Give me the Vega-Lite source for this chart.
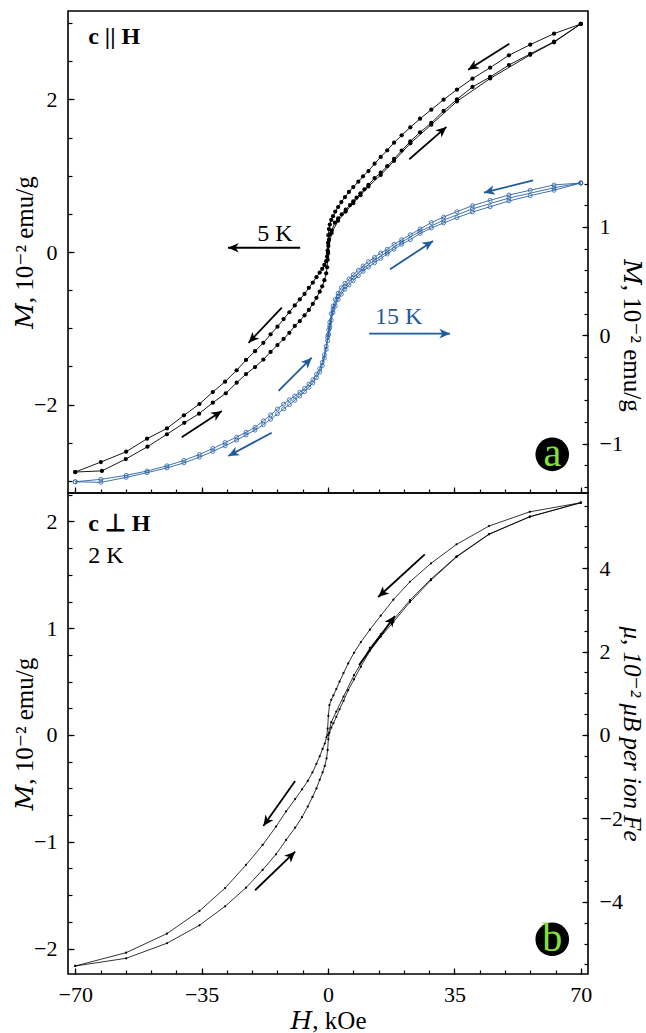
{
"$schema":"https://vega.github.io/schema/vega-lite/v6.json",
"padding":{"left":11,"top":10,"right":5,"bottom":3},
"spacing":0,
"bounds":"flush",
"config":{"view":{"stroke":"black","strokeWidth":1.6},
"font":"Liberation Serif",
"axis":{"labelFont":"Liberation Serif","labelFontSize":22,"titleFont":"Liberation Serif, DejaVu Serif","titleFontSize":25,"titleFontWeight":"normal","labelColor":"black","titleColor":"black","tickColor":"black","domain":false,"grid":false,"labelFlush":false,"labelOverlap":false,"tickWidth":1.2}},
"datasets":{
"k5":[
{"H":70,"M":2.99,"b":"down"},{"H":62.6,"M":2.863,"b":"down"},{"H":56,"M":2.719,"b":"down"},{"H":50.1,"M":2.579,"b":"down"},{"H":44.9,"M":2.417,"b":"down"},{"H":40,"M":2.273,"b":"down"},{"H":35.7,"M":2.129,"b":"down"},{"H":32,"M":1.997,"b":"down"},{"H":28.6,"M":1.866,"b":"down"},{"H":25.5,"M":1.748,"b":"down"},{"H":22.8,"M":1.635,"b":"down"},{"H":20.4,"M":1.53,"b":"down"},{"H":18.3,"M":1.434,"b":"down"},{"H":16.4,"M":1.334,"b":"down"},{"H":14.6,"M":1.246,"b":"down"},{"H":12.9,"M":1.158,"b":"down"},{"H":11.2,"M":1.062,"b":"down"},{"H":9.7,"M":0.993,"b":"down"},{"H":8.4,"M":0.922,"b":"down"},{"H":7,"M":0.852,"b":"down"},{"H":5.8,"M":0.787,"b":"down"},{"H":4.7,"M":0.72,"b":"down"},{"H":3.7,"M":0.655,"b":"down"},{"H":2.8,"M":0.59,"b":"down"},{"H":2,"M":0.53,"b":"down"},{"H":1.4,"M":0.47,"b":"down"},{"H":0.9,"M":0.42,"b":"down"},{"H":0.5,"M":0.36,"b":"down"},{"H":0.25,"M":0.3,"b":"down"},{"H":0.1,"M":0.22,"b":"down"},{"H":0,"M":0.12,"b":"down"},{"H":-0.1,"M":0.02,"b":"down"},{"H":-0.25,"M":-0.06,"b":"down"},{"H":-0.5,"M":-0.12,"b":"down"},{"H":-1,"M":-0.17,"b":"down"},{"H":-1.6,"M":-0.22,"b":"down"},{"H":-2.3,"M":-0.27,"b":"down"},{"H":-3.2,"M":-0.33,"b":"down"},{"H":-4.2,"M":-0.4,"b":"down"},{"H":-5.3,"M":-0.47,"b":"down"},{"H":-6.5,"M":-0.55,"b":"down"},{"H":-7.8,"M":-0.62,"b":"down"},{"H":-9.2,"M":-0.7,"b":"down"},{"H":-10.7,"M":-0.79,"b":"down"},{"H":-12.3,"M":-0.88,"b":"down"},{"H":-14,"M":-0.98,"b":"down"},{"H":-15.9,"M":-1.08,"b":"down"},{"H":-17.9,"M":-1.19,"b":"down"},{"H":-20.2,"M":-1.3,"b":"down"},{"H":-22.7,"M":-1.416,"b":"down"},{"H":-25.3,"M":-1.552,"b":"down"},{"H":-28.5,"M":-1.7,"b":"down"},{"H":-31.9,"M":-1.836,"b":"down"},{"H":-35.6,"M":-1.993,"b":"down"},{"H":-39.9,"M":-2.142,"b":"down"},{"H":-44.6,"M":-2.313,"b":"down"},{"H":-50.1,"M":-2.448,"b":"down"},{"H":-55.9,"M":-2.619,"b":"down"},{"H":-62.9,"M":-2.754,"b":"down"},{"H":-70,"M":-2.885,"b":"down"},
{"H":-70,"M":-2.885,"b":"up"},{"H":-62.6,"M":-2.87,"b":"up"},{"H":-56,"M":-2.715,"b":"up"},{"H":-50,"M":-2.553,"b":"up"},{"H":-44.6,"M":-2.39,"b":"up"},{"H":-39.8,"M":-2.24,"b":"up"},{"H":-35.7,"M":-2.12,"b":"up"},{"H":-31.9,"M":-1.976,"b":"up"},{"H":-28.3,"M":-1.853,"b":"up"},{"H":-25.3,"M":-1.714,"b":"up"},{"H":-22.7,"M":-1.6,"b":"up"},{"H":-20.2,"M":-1.508,"b":"up"},{"H":-17.9,"M":-1.41,"b":"up"},{"H":-15.9,"M":-1.31,"b":"up"},{"H":-14,"M":-1.22,"b":"up"},{"H":-12.3,"M":-1.14,"b":"up"},{"H":-10.7,"M":-1.06,"b":"up"},{"H":-9.2,"M":-0.97,"b":"up"},{"H":-7.8,"M":-0.905,"b":"up"},{"H":-6.5,"M":-0.83,"b":"up"},{"H":-5.3,"M":-0.76,"b":"up"},{"H":-4.2,"M":-0.68,"b":"up"},{"H":-3.2,"M":-0.6,"b":"up"},{"H":-2.3,"M":-0.52,"b":"up"},{"H":-1.6,"M":-0.45,"b":"up"},{"H":-1,"M":-0.37,"b":"up"},{"H":-0.5,"M":-0.28,"b":"up"},{"H":-0.25,"M":-0.2,"b":"up"},{"H":-0.1,"M":-0.1,"b":"up"},{"H":0,"M":-0.02,"b":"up"},{"H":0.1,"M":0.08,"b":"up"},{"H":0.25,"M":0.16,"b":"up"},{"H":0.56,"M":0.232,"b":"up"},{"H":1,"M":0.28,"b":"up"},{"H":1.9,"M":0.385,"b":"up"},{"H":2.8,"M":0.44,"b":"up"},{"H":3.8,"M":0.494,"b":"up"},{"H":4.9,"M":0.555,"b":"up"},{"H":6.1,"M":0.616,"b":"up"},{"H":7,"M":0.665,"b":"up"},{"H":7.9,"M":0.712,"b":"up"},{"H":9,"M":0.77,"b":"up"},{"H":10.1,"M":0.822,"b":"up"},{"H":11.2,"M":0.88,"b":"up"},{"H":12.9,"M":0.97,"b":"up"},{"H":14.6,"M":1.04,"b":"up"},{"H":16.4,"M":1.125,"b":"up"},{"H":18.3,"M":1.22,"b":"up"},{"H":20.4,"M":1.33,"b":"up"},{"H":22.8,"M":1.45,"b":"up"},{"H":25.5,"M":1.57,"b":"up"},{"H":28.6,"M":1.692,"b":"up"},{"H":32,"M":1.849,"b":"up"},{"H":35.7,"M":2,"b":"up"},{"H":40,"M":2.164,"b":"up"},{"H":44.9,"M":2.295,"b":"up"},{"H":50.1,"M":2.452,"b":"up"},{"H":56,"M":2.597,"b":"up"},{"H":62.6,"M":2.758,"b":"up"},{"H":70,"M":2.99,"b":"up"},
{"H":0,"M":0,"b":"virgin"},{"H":1,"M":0.25,"b":"virgin"},{"H":2.8,"M":0.41,"b":"virgin"},{"H":4.9,"M":0.53,"b":"virgin"},{"H":7,"M":0.64,"b":"virgin"},{"H":9,"M":0.745,"b":"virgin"},{"H":11.2,"M":0.86,"b":"virgin"},{"H":14.6,"M":1.01,"b":"virgin"},{"H":18.3,"M":1.195,"b":"virgin"},{"H":22.8,"M":1.425,"b":"virgin"},{"H":28.6,"M":1.67,"b":"virgin"},{"H":35.7,"M":1.975,"b":"virgin"},{"H":44.9,"M":2.275,"b":"virgin"},{"H":56,"M":2.585,"b":"virgin"},{"H":62.6,"M":2.75,"b":"virgin"},{"H":70,"M":2.99,"b":"virgin"}
],
"k15":[
{"H":70,"M":1.406,"b":"down"},{"H":62.6,"M":1.388,"b":"down"},{"H":56,"M":1.339,"b":"down"},{"H":50.1,"M":1.295,"b":"down"},{"H":44.9,"M":1.246,"b":"down"},{"H":40,"M":1.197,"b":"down"},{"H":35.7,"M":1.141,"b":"down"},{"H":32,"M":1.092,"b":"down"},{"H":28.6,"M":1.04,"b":"down"},{"H":25.5,"M":0.981,"b":"down"},{"H":22.8,"M":0.929,"b":"down"},{"H":20.4,"M":0.883,"b":"down"},{"H":18.3,"M":0.84,"b":"down"},{"H":16.4,"M":0.794,"b":"down"},{"H":14.6,"M":0.76,"b":"down"},{"H":12.9,"M":0.72,"b":"down"},{"H":11.2,"M":0.68,"b":"down"},{"H":9.7,"M":0.64,"b":"down"},{"H":8.4,"M":0.6,"b":"down"},{"H":7,"M":0.56,"b":"down"},{"H":5.8,"M":0.52,"b":"down"},{"H":4.7,"M":0.48,"b":"down"},{"H":3.7,"M":0.44,"b":"down"},{"H":2.8,"M":0.39,"b":"down"},{"H":2,"M":0.33,"b":"down"},{"H":1.4,"M":0.27,"b":"down"},{"H":0.9,"M":0.2,"b":"down"},{"H":0.5,"M":0.12,"b":"down"},{"H":0.2,"M":0.05,"b":"down"},{"H":-0.1,"M":-0.02,"b":"down"},{"H":-0.5,"M":-0.1,"b":"down"},{"H":-1,"M":-0.18,"b":"down"},{"H":-1.6,"M":-0.25,"b":"down"},{"H":-2.3,"M":-0.31,"b":"down"},{"H":-3.2,"M":-0.36,"b":"down"},{"H":-4.2,"M":-0.41,"b":"down"},{"H":-5.3,"M":-0.45,"b":"down"},{"H":-6.5,"M":-0.49,"b":"down"},{"H":-7.8,"M":-0.525,"b":"down"},{"H":-9.2,"M":-0.56,"b":"down"},{"H":-10.7,"M":-0.595,"b":"down"},{"H":-12.3,"M":-0.635,"b":"down"},{"H":-14,"M":-0.68,"b":"down"},{"H":-15.9,"M":-0.735,"b":"down"},{"H":-17.9,"M":-0.79,"b":"down"},{"H":-20.2,"M":-0.85,"b":"down"},{"H":-22.7,"M":-0.895,"b":"down"},{"H":-25.3,"M":-0.94,"b":"down"},{"H":-28.5,"M":-0.99,"b":"down"},{"H":-31.9,"M":-1.045,"b":"down"},{"H":-35.6,"M":-1.1,"b":"down"},{"H":-39.9,"M":-1.155,"b":"down"},{"H":-44.6,"M":-1.205,"b":"down"},{"H":-50.1,"M":-1.253,"b":"down"},{"H":-55.9,"M":-1.293,"b":"down"},{"H":-62.9,"M":-1.33,"b":"down"},{"H":-70,"M":-1.352,"b":"down"},
{"H":-70,"M":-1.352,"b":"up"},{"H":-62.9,"M":-1.358,"b":"up"},{"H":-55.9,"M":-1.312,"b":"up"},{"H":-50.1,"M":-1.268,"b":"up"},{"H":-44.6,"M":-1.225,"b":"up"},{"H":-39.9,"M":-1.178,"b":"up"},{"H":-35.6,"M":-1.125,"b":"up"},{"H":-31.9,"M":-1.072,"b":"up"},{"H":-28.5,"M":-1.02,"b":"up"},{"H":-25.3,"M":-0.968,"b":"up"},{"H":-22.7,"M":-0.92,"b":"up"},{"H":-20.2,"M":-0.875,"b":"up"},{"H":-17.9,"M":-0.825,"b":"up"},{"H":-15.9,"M":-0.775,"b":"up"},{"H":-14,"M":-0.725,"b":"up"},{"H":-12.3,"M":-0.68,"b":"up"},{"H":-10.7,"M":-0.64,"b":"up"},{"H":-9.2,"M":-0.6,"b":"up"},{"H":-7.8,"M":-0.56,"b":"up"},{"H":-6.5,"M":-0.52,"b":"up"},{"H":-5.3,"M":-0.48,"b":"up"},{"H":-4.2,"M":-0.44,"b":"up"},{"H":-3.2,"M":-0.39,"b":"up"},{"H":-2.3,"M":-0.34,"b":"up"},{"H":-1.6,"M":-0.28,"b":"up"},{"H":-1,"M":-0.21,"b":"up"},{"H":-0.5,"M":-0.13,"b":"up"},{"H":-0.1,"M":-0.05,"b":"up"},{"H":0.2,"M":0.01,"b":"up"},{"H":0.5,"M":0.07,"b":"up"},{"H":0.9,"M":0.14,"b":"up"},{"H":1.4,"M":0.21,"b":"up"},{"H":2,"M":0.27,"b":"up"},{"H":2.8,"M":0.33,"b":"up"},{"H":3.7,"M":0.38,"b":"up"},{"H":4.7,"M":0.425,"b":"up"},{"H":5.8,"M":0.465,"b":"up"},{"H":7,"M":0.505,"b":"up"},{"H":8.4,"M":0.55,"b":"up"},{"H":9.7,"M":0.59,"b":"up"},{"H":11.2,"M":0.63,"b":"up"},{"H":12.9,"M":0.67,"b":"up"},{"H":14.6,"M":0.71,"b":"up"},{"H":16.4,"M":0.75,"b":"up"},{"H":18.3,"M":0.795,"b":"up"},{"H":20.4,"M":0.84,"b":"up"},{"H":22.8,"M":0.883,"b":"up"},{"H":25.5,"M":0.94,"b":"up"},{"H":28.6,"M":0.991,"b":"up"},{"H":32,"M":1.037,"b":"up"},{"H":35.7,"M":1.086,"b":"up"},{"H":40,"M":1.138,"b":"up"},{"H":44.9,"M":1.187,"b":"up"},{"H":50.1,"M":1.24,"b":"up"},{"H":56,"M":1.289,"b":"up"},{"H":62.6,"M":1.339,"b":"up"},{"H":70,"M":1.406,"b":"up"},
{"H":0,"M":0,"b":"virgin"},{"H":0.5,"M":0.09,"b":"virgin"},{"H":1.4,"M":0.24,"b":"virgin"},{"H":2.8,"M":0.36,"b":"virgin"},{"H":4.7,"M":0.45,"b":"virgin"},{"H":7,"M":0.53,"b":"virgin"},{"H":9.7,"M":0.615,"b":"virgin"},{"H":12.9,"M":0.695,"b":"virgin"},{"H":16.4,"M":0.77,"b":"virgin"},{"H":20.4,"M":0.86,"b":"virgin"},{"H":25.5,"M":0.96,"b":"virgin"},{"H":32,"M":1.063,"b":"virgin"},{"H":40,"M":1.167,"b":"virgin"},{"H":50.1,"M":1.267,"b":"virgin"},{"H":62.6,"M":1.362,"b":"virgin"},{"H":70,"M":1.406,"b":"virgin"}
],
"k2":[
{"H":70,"M":2.175,"b":"down"},{"H":55.9,"M":2.09,"b":"down"},{"H":44.6,"M":1.957,"b":"down"},{"H":35.6,"M":1.785,"b":"down"},{"H":28.5,"M":1.607,"b":"down"},{"H":22.7,"M":1.435,"b":"down"},{"H":18.1,"M":1.267,"b":"down"},{"H":14.6,"M":1.117,"b":"down"},{"H":11.6,"M":0.986,"b":"down"},{"H":9.1,"M":0.87,"b":"down"},{"H":7.2,"M":0.77,"b":"down"},{"H":5.6,"M":0.67,"b":"down"},{"H":4.3,"M":0.58,"b":"down"},{"H":3.2,"M":0.5,"b":"down"},{"H":2.3,"M":0.43,"b":"down"},{"H":1.5,"M":0.37,"b":"down"},{"H":0.9,"M":0.33,"b":"down"},{"H":0.4,"M":0.28,"b":"down"},{"H":0.1,"M":0.18,"b":"down"},{"H":-0.1,"M":0.06,"b":"down"},{"H":-0.4,"M":-0.02,"b":"down"},{"H":-0.9,"M":-0.08,"b":"down"},{"H":-1.5,"M":-0.13,"b":"down"},{"H":-2.3,"M":-0.2,"b":"down"},{"H":-3.2,"M":-0.27,"b":"down"},{"H":-4.3,"M":-0.35,"b":"down"},{"H":-5.6,"M":-0.43,"b":"down"},{"H":-7.2,"M":-0.51,"b":"down"},{"H":-9.1,"M":-0.6,"b":"down"},{"H":-11.6,"M":-0.715,"b":"down"},{"H":-14.4,"M":-0.858,"b":"down"},{"H":-18.1,"M":-1.03,"b":"down"},{"H":-22.7,"M":-1.217,"b":"down"},{"H":-28.5,"M":-1.433,"b":"down"},{"H":-35.6,"M":-1.648,"b":"down"},{"H":-44.6,"M":-1.86,"b":"down"},{"H":-55.9,"M":-2.038,"b":"down"},{"H":-70,"M":-2.163,"b":"down"},
{"H":-70,"M":-2.163,"b":"up"},{"H":-55.9,"M":-2.091,"b":"up"},{"H":-44.6,"M":-1.95,"b":"up"},{"H":-35.6,"M":-1.782,"b":"up"},{"H":-28.5,"M":-1.604,"b":"up"},{"H":-22.7,"M":-1.43,"b":"up"},{"H":-18.1,"M":-1.264,"b":"up"},{"H":-14.4,"M":-1.117,"b":"up"},{"H":-11.6,"M":-0.983,"b":"up"},{"H":-9.1,"M":-0.868,"b":"up"},{"H":-7.2,"M":-0.77,"b":"up"},{"H":-5.6,"M":-0.67,"b":"up"},{"H":-4.3,"M":-0.58,"b":"up"},{"H":-3.2,"M":-0.5,"b":"up"},{"H":-2.3,"M":-0.42,"b":"up"},{"H":-1.5,"M":-0.35,"b":"up"},{"H":-0.9,"M":-0.29,"b":"up"},{"H":-0.4,"M":-0.22,"b":"up"},{"H":-0.1,"M":-0.14,"b":"up"},{"H":0.1,"M":-0.04,"b":"up"},{"H":0.4,"M":0.02,"b":"up"},{"H":0.9,"M":0.07,"b":"up"},{"H":1.5,"M":0.11,"b":"up"},{"H":2.3,"M":0.17,"b":"up"},{"H":3.2,"M":0.24,"b":"up"},{"H":4.3,"M":0.32,"b":"up"},{"H":5.6,"M":0.42,"b":"up"},{"H":7.2,"M":0.52,"b":"up"},{"H":9.1,"M":0.64,"b":"up"},{"H":11.6,"M":0.79,"b":"up"},{"H":14.6,"M":0.92,"b":"up"},{"H":18.1,"M":1.058,"b":"up"},{"H":22.7,"M":1.245,"b":"up"},{"H":28.5,"M":1.449,"b":"up"},{"H":35.6,"M":1.667,"b":"up"},{"H":44.6,"M":1.879,"b":"up"},{"H":55.9,"M":2.044,"b":"up"},{"H":70,"M":2.175,"b":"up"},
{"H":0,"M":0,"b":"virgin"},{"H":0.9,"M":0.12,"b":"virgin"},{"H":2.3,"M":0.22,"b":"virgin"},{"H":4.3,"M":0.36,"b":"virgin"},{"H":7.2,"M":0.56,"b":"virgin"},{"H":11.6,"M":0.815,"b":"virgin"},{"H":14.6,"M":0.945,"b":"virgin"},{"H":18.1,"M":1.08,"b":"virgin"},{"H":22.7,"M":1.262,"b":"virgin"},{"H":28.5,"M":1.46,"b":"virgin"},{"H":35.6,"M":1.672,"b":"virgin"},{"H":44.6,"M":1.882,"b":"virgin"},{"H":55.9,"M":2.044,"b":"virgin"},{"H":70,"M":2.175,"b":"virgin"}
],
"arrA":[
{"x1":50.2,"y1":2.73,"x2":38.8,"y2":2.39,"dir":148},
{"x1":22.5,"y1":1.216,"x2":32.8,"y2":1.64,"dir":-41},
{"x1":-12.8,"y1":-0.73,"x2":-22.0,"y2":-1.19,"dir":134},
{"x1":-40.5,"y1":-2.43,"x2":-29.4,"y2":-2.085,"dir":-33},
{"x1":-7.7,"y1":0.056,"x2":-27.7,"y2":0.056,"dir":180}
],
"arrAb":[
{"x1":56.8,"y1":1.431,"x2":43.2,"y2":1.317,"dir":166},
{"x1":17.2,"y1":0.609,"x2":29.1,"y2":0.871,"dir":-33},
{"x1":-13.7,"y1":-0.514,"x2":-4.5,"y2":-0.207,"dir":-45},
{"x1":-15.6,"y1":-0.899,"x2":-27.6,"y2":-1.115,"dir":152},
{"x1":11.4,"y1":0.015,"x2":33.8,"y2":0.015,"dir":0}
],
"arrB":[
{"x1":26.8,"y1":1.692,"x2":13.9,"y2":1.292,"dir":138},
{"x1":8.6,"y1":0.655,"x2":18.5,"y2":1.114,"dir":-54},
{"x1":-9.1,"y1":-0.431,"x2":-17.9,"y2":-0.852,"dir":125},
{"x1":-20.2,"y1":-1.454,"x2":-9.1,"y2":-1.093,"dir":-44}
]
},
"vconcat":[
{
"width":520,"height":482,
"resolve":{"scale":{"y":"independent"},"axis":{"x":"independent","y":"independent"}},
"layer":[
{"data":{"name":"k5"},"mark":{"type":"line","color":"black","strokeWidth":0.9},
"encoding":{"x":{"field":"H","type":"quantitative","scale":{"domain":[-72,72],"nice":false,"zero":false},"axis":{"orient":"bottom","values":[-70,-35,0,35,70],"labels":false,"tickSize":-6,"title":null}},
"y":{"field":"M","type":"quantitative","scale":{"domain":[-3.16,3.16],"nice":false,"zero":false},"axis":{"orient":"left","values":[-2,0,2],"tickSize":-6,"labelPadding":17,"title":"𝑀, 10⁻² emu/g","titlePadding":-4}},
"detail":{"field":"b"}}},
{"data":{"name":"k5"},"mark":{"type":"point","filled":true,"color":"black","size":18,"opacity":1},
"encoding":{"x":{"field":"H","type":"quantitative","scale":{"domain":[-72,72],"nice":false,"zero":false},"axis":{"orient":"bottom","values":[-70,-63,-56,-49,-42,-35,-28,-21,-14,-7,0,7,14,21,28,35,42,49,56,63,70],"labels":false,"tickSize":-4,"title":null}},
"y":{"field":"M","type":"quantitative","scale":{"domain":[-3.16,3.16],"nice":false,"zero":false},"axis":{"orient":"left","values":[-3,-2.5,-2,-1.5,-1,-0.5,0,0.5,1,1.5,2,2.5,3],"labels":false,"tickSize":-4,"title":null}}}},
{"data":{"name":"k15"},"mark":{"type":"line","color":"#2a62a6","strokeWidth":0.9},
"encoding":{"x":{"field":"H","type":"quantitative","scale":{"domain":[-72,72],"nice":false,"zero":false},"axis":null},
"y":{"field":"M","type":"quantitative","scale":{"domain":[-1.456,2.994],"nice":false,"zero":false},"axis":{"orient":"right","values":[-1,0,1],"tickSize":-6,"labelPadding":17,"title":"𝑀, 10⁻² emu/g","titlePadding":-4,"titleY":324}},
"detail":{"field":"b"}}},
{"data":{"name":"k15"},"mark":{"type":"point","filled":false,"color":"#2a62a6","size":16,"strokeWidth":0.8,"opacity":1},
"encoding":{"x":{"field":"H","type":"quantitative","scale":{"domain":[-72,72],"nice":false,"zero":false},"axis":null},
"y":{"field":"M","type":"quantitative","scale":{"domain":[-1.456,2.994],"nice":false,"zero":false},"axis":{"orient":"right","values":[-1.4,-1.2,-1,-0.8,-0.6,-0.4,-0.2,0,0.2,0.4,0.6,0.8,1,1.2,1.4],"labels":false,"tickSize":-4,"title":null}}}},
{"data":{"name":"arrA"},"mark":{"type":"rule","color":"black","strokeWidth":1.8},
"encoding":{"x":{"field":"x1","type":"quantitative","scale":{"domain":[-72,72],"nice":false,"zero":false},"axis":null},"x2":{"field":"x2"},
"y":{"field":"y1","type":"quantitative","scale":{"domain":[-3.16,3.16],"nice":false,"zero":false},"axis":null},"y2":{"field":"y2"}}},
{"data":{"name":"arrA"},"mark":{"type":"point","filled":true,"color":"black","opacity":1,"size":460,"shape":"M0,0L-1,-0.45L-0.72,0L-1,0.45Z","strokeWidth":0},
"encoding":{"x":{"field":"x2","type":"quantitative","scale":{"domain":[-72,72],"nice":false,"zero":false},"axis":null},
"y":{"field":"y2","type":"quantitative","scale":{"domain":[-3.16,3.16],"nice":false,"zero":false},"axis":null},
"angle":{"field":"dir","type":"quantitative","scale":null}}},
{"data":{"name":"arrAb"},"mark":{"type":"rule","color":"#1f5a9e","strokeWidth":1.8},
"encoding":{"x":{"field":"x1","type":"quantitative","scale":{"domain":[-72,72],"nice":false,"zero":false},"axis":null},"x2":{"field":"x2"},
"y":{"field":"y1","type":"quantitative","scale":{"domain":[-1.456,2.994],"nice":false,"zero":false},"axis":null},"y2":{"field":"y2"}}},
{"data":{"name":"arrAb"},"mark":{"type":"point","filled":true,"color":"#1f5a9e","opacity":1,"size":460,"shape":"M0,0L-1,-0.45L-0.72,0L-1,0.45Z","strokeWidth":0},
"encoding":{"x":{"field":"x2","type":"quantitative","scale":{"domain":[-72,72],"nice":false,"zero":false},"axis":null},
"y":{"field":"y2","type":"quantitative","scale":{"domain":[-1.456,2.994],"nice":false,"zero":false},"axis":null},
"angle":{"field":"dir","type":"quantitative","scale":null}}},
{"data":{"values":[{"H":-66.4,"M":2.73,"t":"c || H"}]},"mark":{"type":"text","align":"left","baseline":"alphabetic","font":"Liberation Serif","fontSize":24,"fontWeight":"bold","color":"black"},
"encoding":{"x":{"field":"H","type":"quantitative","scale":{"domain":[-72,72],"nice":false,"zero":false},"axis":null},
"y":{"field":"M","type":"quantitative","scale":{"domain":[-3.16,3.16],"nice":false,"zero":false},"axis":null},"text":{"field":"t"}}},
{"data":{"values":[{"H":-19.6,"M":0.144,"t":"5 K"}]},"mark":{"type":"text","align":"left","baseline":"alphabetic","font":"Liberation Serif","fontSize":24,"color":"black"},
"encoding":{"x":{"field":"H","type":"quantitative","scale":{"domain":[-72,72],"nice":false,"zero":false},"axis":null},
"y":{"field":"M","type":"quantitative","scale":{"domain":[-3.16,3.16],"nice":false,"zero":false},"axis":null},"text":{"field":"t"}}},
{"data":{"values":[{"H":13.0,"M":0.104,"t":"15 K"}]},"mark":{"type":"text","align":"left","baseline":"alphabetic","font":"Liberation Serif","fontSize":24,"color":"#1f5a9e"},
"encoding":{"x":{"field":"H","type":"quantitative","scale":{"domain":[-72,72],"nice":false,"zero":false},"axis":null},
"y":{"field":"M","type":"quantitative","scale":{"domain":[-1.456,2.994],"nice":false,"zero":false},"axis":null},"text":{"field":"t"}}},
{"data":{"values":[{"H":62.1,"M":-2.653,"t":"a"}]},"mark":{"type":"point","shape":"circle","filled":true,"color":"black","opacity":1,"size":1130},
"encoding":{"x":{"field":"H","type":"quantitative","scale":{"domain":[-72,72],"nice":false,"zero":false},"axis":null},
"y":{"field":"M","type":"quantitative","scale":{"domain":[-3.16,3.16],"nice":false,"zero":false},"axis":null}}},
{"data":{"values":[{"H":62.1,"M":-2.653,"t":"a"}]},"mark":{"type":"text","align":"center","baseline":"middle","font":"Liberation Serif","fontSize":40,"color":"#86e03a"},
"encoding":{"x":{"field":"H","type":"quantitative","scale":{"domain":[-72,72],"nice":false,"zero":false},"axis":null},
"y":{"field":"M","type":"quantitative","scale":{"domain":[-3.16,3.16],"nice":false,"zero":false},"axis":null},"text":{"field":"t"}}}
]
},
{
"width":520,"height":481,
"resolve":{"scale":{"y":"independent"},"axis":{"x":"independent","y":"independent"}},
"layer":[
{"data":{"name":"k2"},"mark":{"type":"line","color":"black","strokeWidth":0.8},
"encoding":{"x":{"field":"H","type":"quantitative","scale":{"domain":[-72,72],"nice":false,"zero":false},"axis":{"orient":"bottom","values":[-70,-35,0,35,70],"tickSize":-6,"labelPadding":16,"title":"𝐻, kOe","titlePadding":3}},
"y":{"field":"M","type":"quantitative","scale":{"domain":[-2.238,2.266],"nice":false,"zero":false},"axis":{"orient":"left","values":[-2,-1,0,1,2],"tickSize":-6,"labelPadding":17,"title":"𝑀, 10⁻² emu/g","titlePadding":-4}},
"detail":{"field":"b"}}},
{"data":{"name":"k2"},"mark":{"type":"point","filled":true,"color":"black","size":5,"opacity":1},
"encoding":{"x":{"field":"H","type":"quantitative","scale":{"domain":[-72,72],"nice":false,"zero":false},"axis":{"orient":"bottom","values":[-70,-63,-56,-49,-42,-35,-28,-21,-14,-7,0,7,14,21,28,35,42,49,56,63,70],"labels":false,"tickSize":-4,"title":null}},
"y":{"field":"M","type":"quantitative","scale":{"domain":[-2.238,2.266],"nice":false,"zero":false},"axis":{"orient":"left","values":[-2,-1.75,-1.5,-1.25,-1,-0.75,-0.5,-0.25,0,0.25,0.5,0.75,1,1.25,1.5,1.75,2,2.25],"labels":false,"tickSize":-4,"title":null}}}},
{"data":{"name":"k2"},"mark":{"type":"point","opacity":0},
"encoding":{"x":{"field":"H","type":"quantitative","scale":{"domain":[-72,72],"nice":false,"zero":false},"axis":null},
"y":{"field":"M","type":"quantitative","scale":{"domain":[-5.73,5.8],"nice":false,"zero":false},"axis":{"orient":"right","values":[-4,-2,0,2,4],"tickSize":-6,"labelPadding":17,"title":"μ, 10⁻² μB per ion Fe","titleFontStyle":"italic","titlePadding":-4}}}},
{"data":{"name":"k2"},"mark":{"type":"point","opacity":0},
"encoding":{"x":{"field":"H","type":"quantitative","scale":{"domain":[-72,72],"nice":false,"zero":false},"axis":null},
"y":{"field":"M","type":"quantitative","scale":{"domain":[-5.73,5.8],"nice":false,"zero":false},"axis":{"orient":"right","values":[-5.5,-5,-4.5,-4,-3.5,-3,-2.5,-2,-1.5,-1,-0.5,0,0.5,1,1.5,2,2.5,3,3.5,4,4.5,5,5.5],"labels":false,"tickSize":-4,"title":null}}}},
{"data":{"name":"arrB"},"mark":{"type":"rule","color":"black","strokeWidth":1.8},
"encoding":{"x":{"field":"x1","type":"quantitative","scale":{"domain":[-72,72],"nice":false,"zero":false},"axis":null},"x2":{"field":"x2"},
"y":{"field":"y1","type":"quantitative","scale":{"domain":[-2.238,2.266],"nice":false,"zero":false},"axis":null},"y2":{"field":"y2"}}},
{"data":{"name":"arrB"},"mark":{"type":"point","filled":true,"color":"black","opacity":1,"size":460,"shape":"M0,0L-1,-0.45L-0.72,0L-1,0.45Z","strokeWidth":0},
"encoding":{"x":{"field":"x2","type":"quantitative","scale":{"domain":[-72,72],"nice":false,"zero":false},"axis":null},
"y":{"field":"y2","type":"quantitative","scale":{"domain":[-2.238,2.266],"nice":false,"zero":false},"axis":null},
"angle":{"field":"dir","type":"quantitative","scale":null}}},
{"data":{"values":[{"H":-66.4,"M":1.91,"t":"c ⊥ H"}]},"mark":{"type":"text","align":"left","baseline":"alphabetic","font":"Liberation Serif","fontSize":24,"fontWeight":"bold","color":"black"},
"encoding":{"x":{"field":"H","type":"quantitative","scale":{"domain":[-72,72],"nice":false,"zero":false},"axis":null},
"y":{"field":"M","type":"quantitative","scale":{"domain":[-2.238,2.266],"nice":false,"zero":false},"axis":null},"text":{"field":"t"}}},
{"data":{"values":[{"H":-66.4,"M":1.613,"t":"2 K"}]},"mark":{"type":"text","align":"left","baseline":"alphabetic","font":"Liberation Serif","fontSize":24,"color":"black"},
"encoding":{"x":{"field":"H","type":"quantitative","scale":{"domain":[-72,72],"nice":false,"zero":false},"axis":null},
"y":{"field":"M","type":"quantitative","scale":{"domain":[-2.238,2.266],"nice":false,"zero":false},"axis":null},"text":{"field":"t"}}},
{"data":{"values":[{"H":62.1,"M":-1.913,"t":"b"}]},"mark":{"type":"point","shape":"circle","filled":true,"color":"black","opacity":1,"size":1130},
"encoding":{"x":{"field":"H","type":"quantitative","scale":{"domain":[-72,72],"nice":false,"zero":false},"axis":null},
"y":{"field":"M","type":"quantitative","scale":{"domain":[-2.238,2.266],"nice":false,"zero":false},"axis":null}}},
{"data":{"values":[{"H":62.1,"M":-1.913,"t":"b"}]},"mark":{"type":"text","align":"center","baseline":"middle","font":"Liberation Serif","fontSize":40,"color":"#86e03a"},
"encoding":{"x":{"field":"H","type":"quantitative","scale":{"domain":[-72,72],"nice":false,"zero":false},"axis":null},
"y":{"field":"M","type":"quantitative","scale":{"domain":[-2.238,2.266],"nice":false,"zero":false},"axis":null},"text":{"field":"t"}}}
]
}
]
}
